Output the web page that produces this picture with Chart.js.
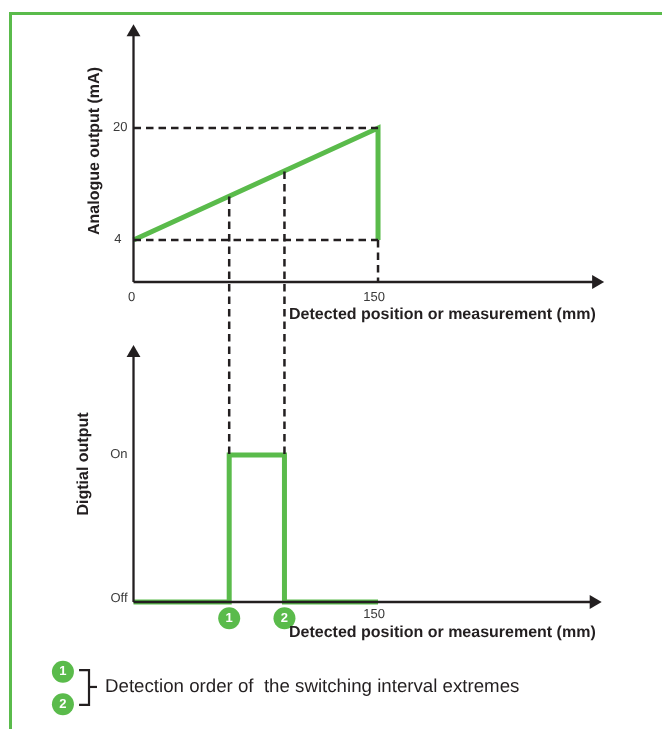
<!DOCTYPE html>
<html>
<head>
<meta charset="utf-8">
<title>Analogue and digital output</title>
<script src="https://cdn.jsdelivr.net/npm/chart.js@4"></script>
<style>
  html, body { margin: 0; padding: 0; background: #fff; }
  #wrap { position: relative; width: 662px; height: 729px; overflow: hidden; }
  #frame { position: absolute; left: 9px; top: 12px; right: 0; bottom: 0; border-top: 3px solid #5abb4b; border-left: 3px solid #5abb4b; }
  canvas { position: absolute; left: 0; top: 0; }
</style>
</head>
<body>
<div id="wrap">
  <div id="frame"></div>
  <canvas id="chart" width="662" height="729"></canvas>
</div>
<script>
const GREEN = '#5abb4b';
const BLACK = '#231f20';
const GREY = '#3a3a3a';

// analogue output (mm, mA)
const analogueX = [0, 150, 150];
const analogueY = [4, 20, 4];

// digital output (mm, 0 = Off, 1 = On)
const digitalX = [0, 58.7, 58.7, 92.6, 92.6, 150];
const digitalY = [0, 0, 1, 1, 0, 0];

// switching interval extremes
const switchX = [58.7, 92.6];
const switchAnalogue = [10.2, 13.8];
const onLevelOnAnalogue = -26.7;  // the On level, read on the mA axis

const analogueTicks = [4, 20];
const positionTicks = [0, 150];
const digitalTicks = ['Off', 'On'];
const axisFloorAnalogue = -2;
const axisTopAnalogue = 33.7;
const axisTopDigital = 1.693;
const axisEndAnalogue = 283.8;
const axisEndDigital = 282.3;

const xTitle = 'Detected position or measurement (mm)';
const yTitleAnalogue = 'Analogue output (mA)';
const yTitleDigital = 'Digtial output';
const noteText = 'Detection order of  the switching interval extremes';
const noteBadgeX = -43.3;
const noteBadgeY = [-0.475, -0.695];
const stemBadgeY = -0.11;
const bracketX = [-33.4, -27.3, -27.3, -33.4];
const bracketY = [-0.463, -0.463, -0.70, -0.70];
const bracketStubX = [-27.3, -22.4];
const bracketStubY = [-0.578, -0.578];

function pts(xs, ys) {
  return xs.map(function(x, i) { return { x: x, y: ys[i] }; });
}

function line(xs, ys, axis, color, width, dash) {
  return {
    data: pts(xs, ys),
    yAxisID: axis,
    borderColor: color,
    borderWidth: width,
    borderDash: dash || [],
    borderJoinStyle: 'miter',
    borderCapStyle: 'butt',
    showLine: true,
    tension: 0,
    pointRadius: 0
  };
}

function axisLine(xs, ys, axis, rotation) {
  let set = line(xs, ys, axis, BLACK, 2.3);
  set.pointStyle = 'triangle';
  set.pointRotation = rotation;
  set.pointBackgroundColor = BLACK;
  set.pointBorderColor = BLACK;
  set.pointBorderWidth = 0;
  set.pointRadius = [0, 8];
  return set;
}

function badges(xs, ys) {
  return {
    data: pts(xs, ys),
    yAxisID: 'yD',
    showLine: false,
    pointStyle: 'circle',
    pointRadius: 11,
    pointBorderWidth: 0,
    pointBackgroundColor: GREEN
  };
}

const DASH = [7.5, 5];

const datasets = [
  // dashed guides
  line([0, 150], [20, 20], 'yA', BLACK, 2.5, DASH),
  line([0, 150], [4, 4], 'yA', BLACK, 2.5, DASH),
  line([150, 150], [4, axisFloorAnalogue], 'yA', BLACK, 2.5, DASH),
  line([switchX[0], switchX[0]], [switchAnalogue[0], onLevelOnAnalogue], 'yA', BLACK, 2.5, DASH),
  line([switchX[1], switchX[1]], [switchAnalogue[1], onLevelOnAnalogue], 'yA', BLACK, 2.5, DASH),
  // axes
  axisLine([0, 0], [axisFloorAnalogue, axisTopAnalogue], 'yA', 0),
  axisLine([0, axisEndAnalogue], [axisFloorAnalogue, axisFloorAnalogue], 'yA', 90),
  axisLine([0, 0], [0, axisTopDigital], 'yD', 0),
  axisLine([0, axisEndDigital], [0, 0], 'yD', 90),
  // outputs
  line(analogueX, analogueY, 'yA', GREEN, 5),
  line(digitalX, digitalY, 'yD', GREEN, 5),
  // bracket
  line(bracketX, bracketY, 'yD', BLACK, 2.2),
  line(bracketStubX, bracketStubY, 'yD', BLACK, 2.2),
  // numbered badges
  badges(switchX, [stemBadgeY, stemBadgeY]),
  badges([noteBadgeX, noteBadgeX], noteBadgeY)
];

const textPlugin = {
  id: 'textPlugin',
  afterDatasetsDraw: function(chart) {
    const c = chart.ctx;
    const sx = chart.scales.x, sa = chart.scales.yA, sd = chart.scales.yD;
    const TICK = '13px "Liberation Sans"';
    const BOLD = 'bold 16px "Liberation Sans"';
    const NUM = 'bold 13px "Liberation Sans"';

    function put(text, x, y, font, color, align, angle) {
      c.save();
      c.translate(x, y);
      if (angle) c.rotate(angle);
      c.font = font;
      c.textRendering = 'geometricPrecision';
      c.fillStyle = color;
      c.textAlign = align;
      c.textBaseline = 'middle';
      c.fillText(text, 0, 0);
      c.restore();
    }

    const left = sx.getPixelForValue(0);
    put(String(analogueTicks[1]), left - 6, sa.getPixelForValue(analogueTicks[1]) - 1, TICK, GREY, 'right');
    put(String(analogueTicks[0]), left - 12, sa.getPixelForValue(analogueTicks[0]) - 1, TICK, GREY, 'right');
    put(String(positionTicks[0]), left - 2, 297, TICK, GREY, 'center');
    put(String(positionTicks[1]), sx.getPixelForValue(positionTicks[1]) - 4, 297, TICK, GREY, 'center');
    put(String(positionTicks[1]), sx.getPixelForValue(positionTicks[1]) - 4, 614, TICK, GREY, 'center');
    put(digitalTicks[0], left - 6, sd.getPixelForValue(0) - 4, TICK, GREY, 'right');
    put(digitalTicks[1], left - 6, sd.getPixelForValue(1) - 1, TICK, GREY, 'right');

    put(xTitle, 289, 315, BOLD, BLACK, 'left');
    put(xTitle, 289, 632.5, BOLD, BLACK, 'left');
    put(yTitleAnalogue, 95, 151, BOLD, BLACK, 'center', -Math.PI / 2);
    put(yTitleDigital, 84, 464, BOLD, BLACK, 'center', -Math.PI / 2);
    put(noteText, 105, 687, '18.7px "Liberation Sans"', BLACK, 'left');

    switchX.forEach(function(x, i) {
      put(String(i + 1), sx.getPixelForValue(x), sd.getPixelForValue(stemBadgeY), NUM, '#fff', 'center');
    });
    noteBadgeY.forEach(function(y, i) {
      put(String(i + 1), sx.getPixelForValue(noteBadgeX), sd.getPixelForValue(y), NUM, '#fff', 'center');
    });
  }
};

new Chart(document.getElementById('chart'), {
  type: 'scatter',
  data: { datasets: datasets },
  options: {
    responsive: false,
    animation: false,
    layout: { padding: 0, autoPadding: false },
    plugins: { legend: { display: false }, tooltip: { enabled: false } },
    scales: {
      x: { type: 'linear', display: false, min: -81.9, max: 324.2 },
      yA: { type: 'linear', display: false, min: -65.86, max: 38.29 },
      yD: { type: 'linear', display: false, min: -0.864, max: 4.095 }
    },
    clip: false
  },
  plugins: [textPlugin]
});
</script>
</body>
</html>
